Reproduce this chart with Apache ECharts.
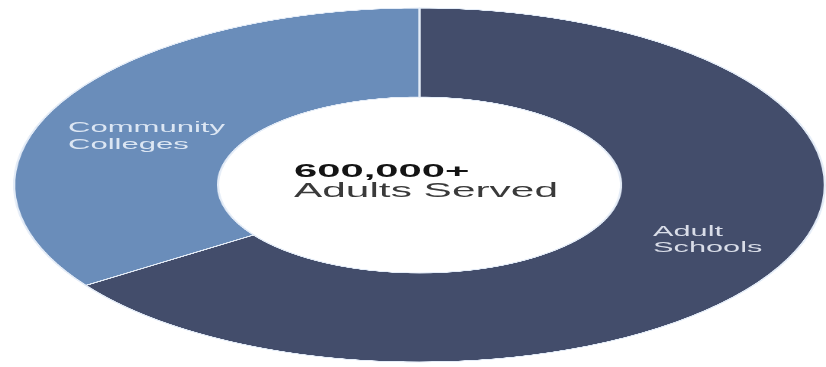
<!DOCTYPE html>
<html>
<head>
<meta charset="utf-8">
<title>Adults Served</title>
<script src="https://cdn.jsdelivr.net/npm/echarts@6/dist/echarts.min.js"></script>
<style>
  html, body { margin: 0; padding: 0; background: #ffffff; overflow: hidden; }
  #stage { position: relative; width: 826px; height: 367px; overflow: hidden; }
  /* The donut is drawn round and widened into an oval */
  #ring {
    position: absolute; left: 235.5px; top: 0; width: 367px; height: 367px;
    transform-origin: 50% 50%; transform: scaleX(2.29);
  }
  #labels { position: absolute; left: 0; top: 0; width: 826px; height: 367px; }
</style>
</head>
<body>
<div id="stage">
  <div id="ring"></div>
  <div id="labels"></div>
</div>
<script>
// Enrollment split between the two provider types (share of adults, %)
const categories = ['Adult Schools', 'Community Colleges'];
const shares = [65.4, 34.6];
const sliceColors = ['#434d6b', '#6a8dba'];
const labelLines = [['Adult', 'Schools'], ['Community', 'Colleges']];
const headline = '600,000+';
const subline = 'Adults Served';

const ring = echarts.init(document.getElementById('ring'), null, { renderer: 'canvas', devicePixelRatio: 3 });
ring.setOption({
  animation: false,
  series: [{
    type: 'pie',
    center: ['50%', 185],
    radius: [88, 177],
    startAngle: 90,
    clockwise: true,
    silent: true,
    label: { show: false },
    labelLine: { show: false },
    itemStyle: { borderColor: '#e4ecf7', borderWidth: 1 },
    data: categories.map((name, i) => ({
      name: name,
      value: shares[i],
      itemStyle: { color: sliceColors[i] }
    }))
  }]
});

// Text layer, widened to sit with the oval ring
function textItem(text, x, y, size, weight, color, sx) {
  return {
    type: 'text', x: x, y: y, scaleX: sx, silent: true,
    style: {
      text: text, x: 0, y: 0,
      fontFamily: '"Liberation Sans", Arial, sans-serif',
      fontSize: size, fontWeight: weight, fill: color,
      align: 'left', verticalAlign: 'middle'
    }
  };
}

const labels = echarts.init(document.getElementById('labels'), null, { renderer: 'canvas' });
labels.setOption({
  animation: false,
  graphic: [
    textItem(headline, 294, 171.5, 19, 'bold', '#141414', 2.2),
    textItem(subline, 294, 191, 20, 'normal', '#3a3a3a', 2.12),
    textItem(labelLines[1][0], 68, 128, 15, 'normal', '#dce6f3', 2.07),
    textItem(labelLines[1][1], 68, 145, 15, 'normal', '#dce6f3', 2.07),
    textItem(labelLines[0][0], 653, 231.5, 15, 'normal', '#d9dde8', 2.05),
    textItem(labelLines[0][1], 653, 248, 15, 'normal', '#d9dde8', 2.05)
  ]
});
</script>
</body>
</html>
